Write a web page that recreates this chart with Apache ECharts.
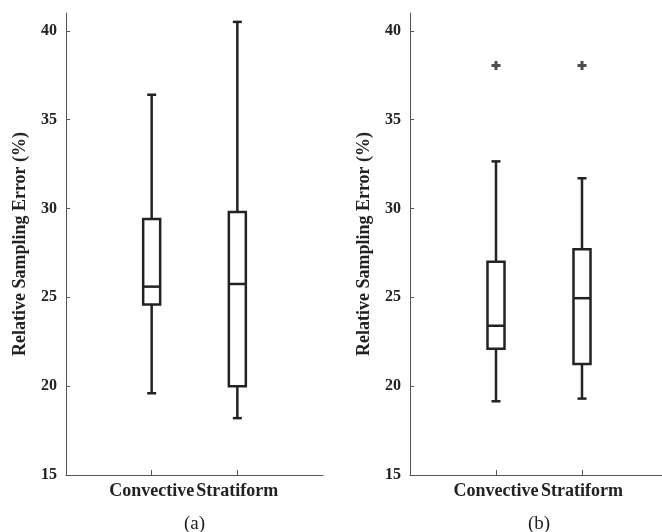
<!DOCTYPE html>
<html>
<head>
<meta charset="utf-8">
<script src="https://cdn.jsdelivr.net/npm/echarts@6/dist/echarts.min.js"></script>
<style>
html, body { margin: 0; padding: 0; background: #fff; }
#chart { width: 662px; height: 532px; }
</style>
</head>
<body>
<div id="chart"></div>
<script>
// categories (empty slots pad the axis to 0..3 like the original)
var categories = ['', 'Convective', 'Stratiform', ''];
var yTicks = [15, 20, 25, 30, 35, 40];

// [low whisker, Q1, median, Q3, high whisker]
var convectiveA = [19.6, 24.6, 25.6, 29.4, 36.4];
var stratiformA = [18.2, 20.0, 25.75, 29.8, 40.5];
var convectiveB = [19.15, 22.1, 23.4, 27.0, 32.65];
var stratiformB = [19.3, 21.25, 24.95, 27.7, 31.7];

// outliers [category index, value]
var outliersB = [[1, 38.05], [2, 38.05]];

var ink = '#222';
var axisCol = '#555';
var serif = '"Liberation Serif", "DejaVu Serif", serif';

function boxRow(idx, arr) {
    return [idx].concat(arr);
}

function renderBox(params, api) {
    var x = api.value(0);
    var low = api.coord([x, api.value(1)]);
    var q1 = api.coord([x, api.value(2)]);
    var med = api.coord([x, api.value(3)]);
    var q3 = api.coord([x, api.value(4)]);
    var high = api.coord([x, api.value(5)]);
    var cx = low[0];
    var hw = 8.5, cw = 4.5;
    var st = { stroke: ink, lineWidth: 2.5, fill: null };
    return {
        type: 'group',
        children: [
            { type: 'line', shape: { x1: cx, y1: q3[1], x2: cx, y2: high[1] }, style: st },
            { type: 'line', shape: { x1: cx, y1: q1[1], x2: cx, y2: low[1] }, style: st },
            { type: 'line', shape: { x1: cx - cw, y1: high[1], x2: cx + cw, y2: high[1] }, style: st },
            { type: 'line', shape: { x1: cx - cw, y1: low[1], x2: cx + cw, y2: low[1] }, style: st },
            { type: 'rect', shape: { x: cx - hw, y: q3[1], width: hw * 2, height: q1[1] - q3[1] },
              style: { stroke: ink, lineWidth: 2.5, fill: '#fff' } },
            { type: 'line', shape: { x1: cx - hw, y1: med[1], x2: cx + hw, y2: med[1] }, style: st }
        ]
    };
}

function xAxisFor(gi, name) {
    return {
        type: 'category',
        gridIndex: gi,
        data: categories,
        boundaryGap: false,
        name: name,
        nameLocation: 'middle',
        nameGap: 40,
        nameTextStyle: { fontFamily: serif, fontSize: 19, color: ink, fontWeight: 'normal' },
        axisLine: { lineStyle: { color: axisCol, width: 1 } },
        axisTick: {
            inside: true, length: 5,
            interval: function (i, v) { return v !== ''; },
            lineStyle: { color: axisCol }
        },
        axisLabel: {
            interval: 0, margin: 7,
            fontFamily: serif, fontSize: 18, fontWeight: 'bold', color: ink
        },
        splitLine: { show: false }
    };
}

function yAxisFor(gi) {
    return {
        type: 'value',
        gridIndex: gi,
        min: 15,
        max: 41,
        name: 'Relative Sampling Error (%)',
        nameLocation: 'middle',
        nameGap: 37,
        nameTextStyle: { fontFamily: serif, fontSize: 18, fontWeight: 'bold', color: ink },
        axisLine: { show: true, lineStyle: { color: axisCol, width: 1 } },
        axisTick: { show: true, inside: true, length: 4, customValues: yTicks, lineStyle: { color: axisCol } },
        axisLabel: {
            customValues: yTicks, margin: 9,
            fontFamily: serif, fontSize: 16, fontWeight: 'bold', color: ink
        },
        splitLine: { show: false }
    };
}

var myChart = echarts.init(document.getElementById('chart'));

var option = {
    backgroundColor: '#fff',
    animation: false,
    grid: [
        { left: 66, top: 13, width: 257, bottom: 57, outerBoundsMode: 'none' },
        { left: 410, top: 13, width: 258, bottom: 57, outerBoundsMode: 'none' }
    ],
    xAxis: [xAxisFor(0, '(a)'), xAxisFor(1, '(b)')],
    yAxis: [yAxisFor(0), yAxisFor(1)],
    series: [
        {
            type: 'custom',
            xAxisIndex: 0, yAxisIndex: 0,
            renderItem: renderBox,
            encode: { x: 0, y: [1, 2, 3, 4, 5] },
            data: [boxRow(1, convectiveA), boxRow(2, stratiformA)]
        },
        {
            type: 'custom',
            xAxisIndex: 1, yAxisIndex: 1,
            renderItem: renderBox,
            encode: { x: 0, y: [1, 2, 3, 4, 5] },
            data: [boxRow(1, convectiveB), boxRow(2, stratiformB)]
        },
        {
            type: 'scatter',
            xAxisIndex: 1, yAxisIndex: 1,
            symbol: 'path://M3,0H6V3H9V6H6V9H3V6H0V3H3Z',
            symbolSize: 9,
            itemStyle: { color: ink },
            data: outliersB
        }
    ]
};

myChart.setOption(option);
</script>
</body>
</html>
